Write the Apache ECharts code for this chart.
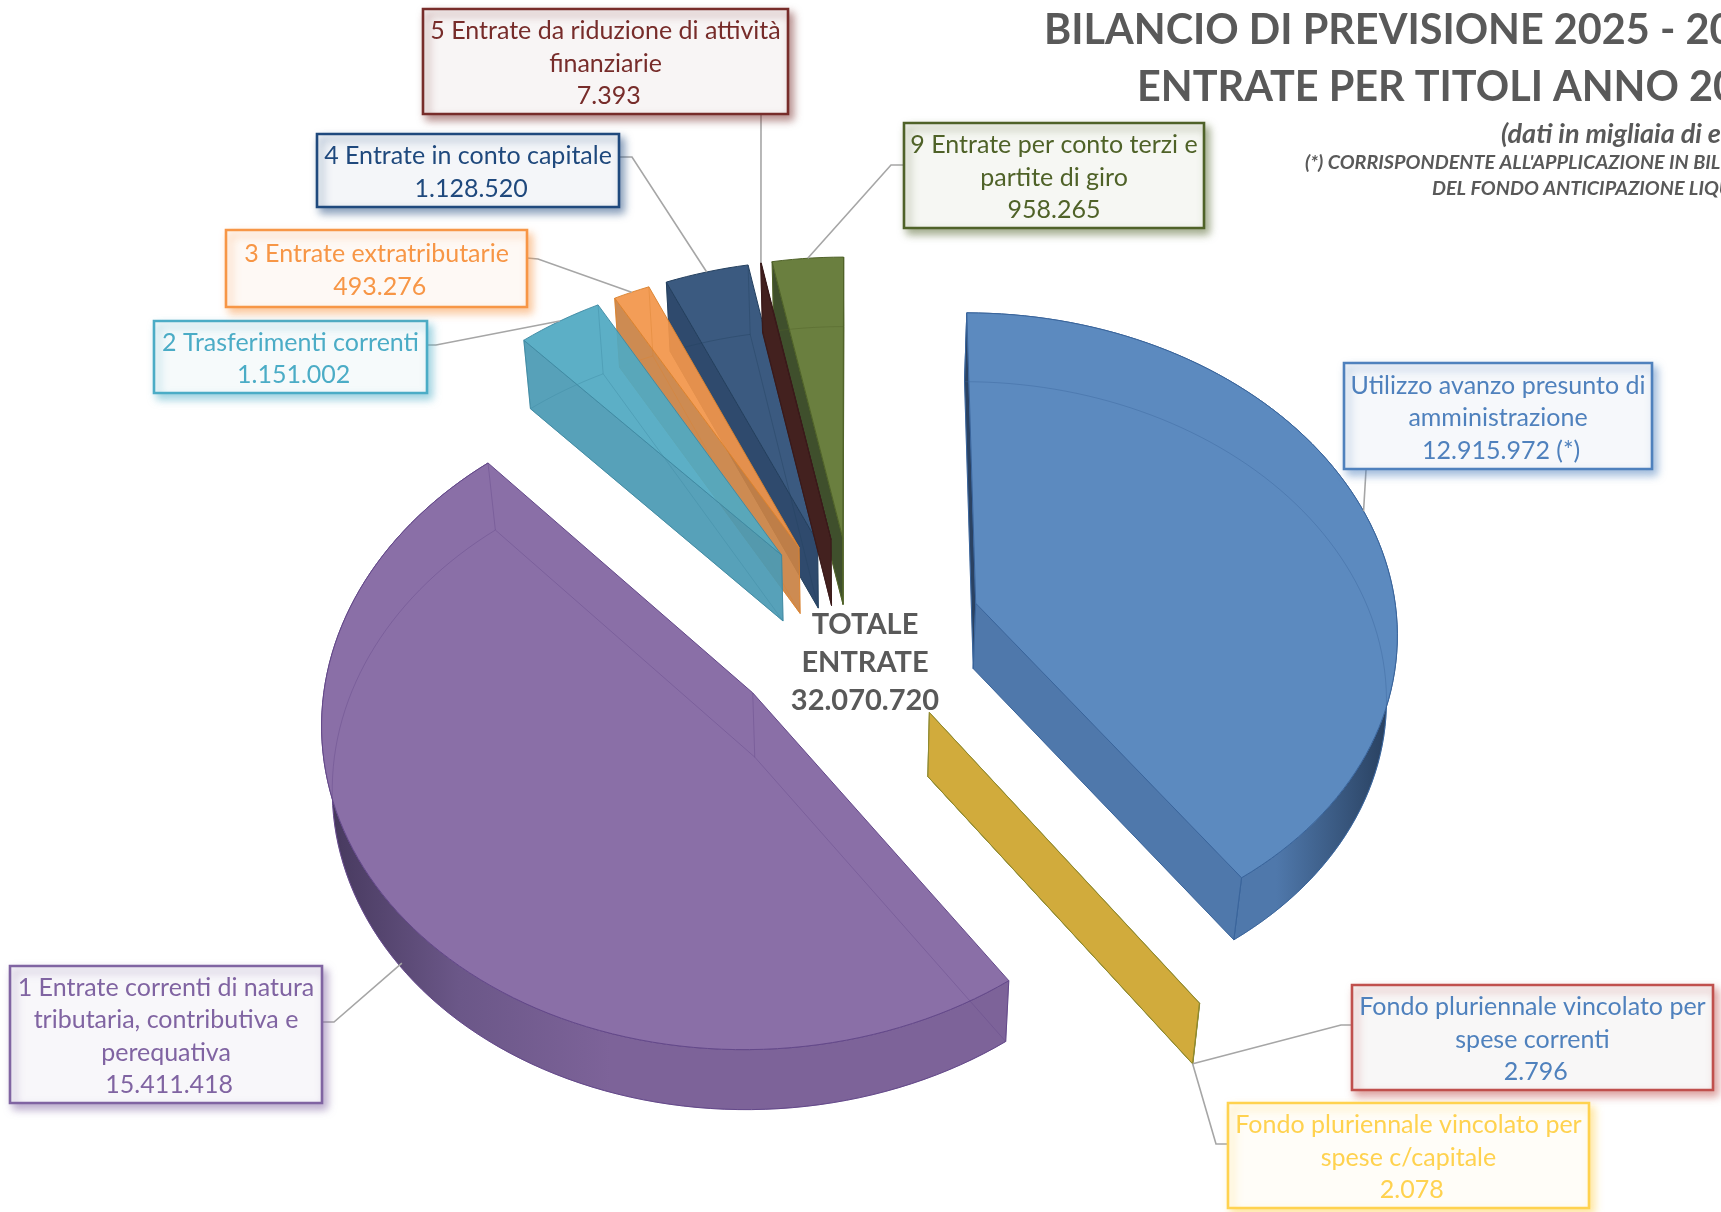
<!DOCTYPE html>
<html>
<head>
<meta charset="utf-8">
<title>Bilancio di previsione - entrate per titoli</title>
<script src="https://cdn.jsdelivr.net/npm/echarts@6/dist/echarts.min.js"></script>
<style>
    html, body { margin: 0; padding: 0; background: #ffffff; overflow: hidden; }
    #chart { width: 1721px; height: 1212px; }
</style>
</head>
<body>
<div id="chart"></div>
<script>
// pie order, clockwise from 12 o'clock
const sliceNames = [
    "Utilizzo avanzo presunto di\namministrazione",
    "Fondo pluriennale vincolato per\nspese correnti",
    "Fondo pluriennale vincolato per\nspese c/capitale",
    "1 Entrate correnti di natura\ntributaria, contributiva e\nperequativa",
    "2 Trasferimenti correnti",
    "3 Entrate extratributarie",
    "4 Entrate in conto capitale",
    "5 Entrate da riduzione di attività\nfinanziarie",
    "9 Entrate per conto terzi e\npartite di giro"
];
const sliceValues = [12915972, 2796, 2078, 15411418, 1151002, 493276, 1128520, 7393, 958265];
const valuePrefixes = [" ", " ", " ", " ", " ", " ", " ", " ", ""];
const valueSuffixes = [" (*)", "", "", "", "", "", "", "", ""];
const totalLabel = "TOTALE\nENTRATE\n32.070.720";

const titleLines = ["BILANCIO DI PREVISIONE 2025 - 20", "ENTRATE PER TITOLI ANNO 20"];
const noteLines = ["(dati in migliaia di e", "(*) CORRISPONDENTE ALL'APPLICAZIONE IN BIL", "DEL FONDO ANTICIPAZIONE LIQU"];

// colours, same order as the slices
const topColors = ["#5c8abf", "#d1ab3c", "#d1ab3c", "#8a6fa7", "#50a9c2", "#f2964a", "#3b5a80", "#4c2528", "#6a7f3f"];
const sideColors = ["#4f78ab", "#d1ab3c", "#d1ab3c", "#7d6399", "#4a9ab4", "#c98245", "#2f4a6d", "#43211f", "#3f4f2c"];
const darkColors = ["#2a4262", "#8a7228", "#8a7228", "#3f3254", "#2c6070", "#8a5a2a", "#1c2d44", "#2a1414", "#28331c"];
const edgeColors = ["#3a659c", "#8f8a30", "#8f8a30", "#64498a", "#3f8aa3", "#d9822f", "#24405f", "#3a1a1a", "#4f6228"];
const textColors = ["#4f81bd", "#4f81bd", "#ffd24f", "#8064a2", "#4bacc6", "#f79646", "#1f497d", "#772c2a", "#4f6228"];
const borderColors = ["#4f81bd", "#c0504d", "#ffd24f", "#8064a2", "#4bacc6", "#f79646", "#1f497d", "#772c2a", "#4f6228"];
const boxFills = ["#f6f8fb", "#f8f7f7", "#fffdf8", "#f8f7fa", "#f6fafb", "#fef9f5", "#f4f6f9", "#f8f5f5", "#f6f7f3"];
const sliceOpacity = [1, 1, 1, 1, 0.93, 0.93, 1, 1, 1];
const drawRank = [1, 2, 3, 4, 9, 8, 6, 7, 5];

// label box: x, y, w, h in px
const boxLayout = [
    [1344, 363, 308, 106],
    [1352, 985, 361, 105],
    [1228, 1103, 361, 105],
    [10, 966, 312, 137],
    [154, 321, 273, 72],
    [226, 230, 301, 77],
    [317, 134, 302, 73],
    [423, 9, 365, 105],
    [904, 123, 300, 105]
];
// leader: start and elbow in px, then which depth of the rim it lands on
const leaderLayout = [
    { from: [1367, 469], elbow: [1366, 470], depth: 0 },
    { from: [1352, 1025], elbow: [1341, 1025], depth: 1 },
    { from: [1228, 1144], elbow: [1216, 1144], depth: 1 },
    { from: [322, 1022], elbow: [334, 1022], depth: 0.9 },
    { from: [427, 345], elbow: [436, 345], depth: 0 },
    { from: [527, 258], elbow: [538, 259], depth: 0 },
    { from: [619, 157], elbow: [632, 157], depth: 0 },
    { from: [761, 114], elbow: [761, 115], depth: 0 },
    { from: [904, 165], elbow: [891, 165], depth: 0 }
];

// perspective of the pie
const centerX = 854.5, centerY = 632;
const radiusX = 422.5, radiusY = 318;
const tilt = 0.08;
const explode = 0.303;
const extrude = 65;

const fontFamily = "Lato, 'Open Sans', sans-serif";
const totalValue = sliceValues.reduce((a, b) => a + b, 0);

function formatValue(v) {
    return String(v).replace(/\B(?=(\d{3})+$)/g, ".");
}

function project(u, v, depth) {
    const w = 1 - tilt * v;
    const x = centerX + radiusX * u / w;
    const y = centerY + radiusY * v / w;
    return [centerX + (x - centerX) * (1 - 0.02 * depth), centerY + (y - centerY) * (1 - 0.012 * depth) + extrude * depth];
}

// > 0 when the polygon runs clockwise on screen, so it looks at the viewer
function polygonArea(pts) {
    let area = 0;
    for (let i = 0; i < pts.length; i++) {
        const a = pts[i], b = pts[(i + 1) % pts.length];
        area += a[0] * b[1] - b[0] * a[1];
    }
    return area;
}

function sliceGeometry(index) {
    let before = 0;
    for (let i = 0; i < index; i++) before += sliceValues[i];
    const start = before / totalValue * Math.PI * 2;
    const end = (before + sliceValues[index]) / totalValue * Math.PI * 2;
    const mid = (start + end) / 2;
    const offU = explode * Math.sin(mid), offV = -explode * Math.cos(mid);
    const rim = (t, depth) => project(offU + Math.sin(t), offV - Math.cos(t), depth);
    const apex = depth => project(offU, offV, depth);
    const steps = Math.max(2, Math.ceil((end - start) / 0.03));
    const arc = depth => {
        const pts = [];
        for (let s = 0; s <= steps; s++) pts.push(rim(start + (end - start) * s / steps, depth));
        return pts;
    };
    return { start, end, mid, rim, apex, arc };
}

function renderSlice(params, api) {
    const i = params.dataIndex;
    const g = sliceGeometry(i);
    const base = drawRank[i] * 20;
    const opacity = sliceOpacity[i];
    const children = [];
    let order = 0;
    const addPoly = (points, fill, stroke) => children.push({
        type: "polygon",
        z2: base + order++,
        shape: { points },
        style: { fill, stroke: stroke || edgeColors[i], lineWidth: 1, opacity }
    });
    const addLine = (points, alpha) => children.push({
        type: "polyline",
        z2: base + order++,
        shape: { points },
        style: { fill: null, stroke: edgeColors[i], lineWidth: 1, opacity: alpha }
    });

    const topArc = g.arc(0), lowArc = g.arc(1);
    const wall = topArc.concat(lowArc.slice().reverse());

    // the rim only shows on slices reaching the near side of the pie
    if (Math.abs(g.end - g.start) > 1) {
        const xs = wall.map(p => p[0]);
        const minX = Math.min(...xs), maxX = Math.max(...xs);
        const darkOnLeft = Math.sin(g.mid) < 0;
        const stops = darkOnLeft
            ? [{ offset: 0, color: darkColors[i] }, { offset: 0.03, color: "#4a3c62" }, { offset: 0.2, color: "#6b5788" }, { offset: 0.42, color: sideColors[i] }, { offset: 1, color: sideColors[i] }]
            : [{ offset: 0, color: sideColors[i] }, { offset: 0.72, color: sideColors[i] }, { offset: 0.97, color: darkColors[i] }, { offset: 1, color: darkColors[i] }];
        addPoly(wall, new echarts.graphic.LinearGradient(minX, 0, maxX, 0, stops, true));
    }

    // the two cut faces, skipped when they turn away from the viewer
    const startFace = [g.rim(g.start, 0), g.apex(0), g.apex(1), g.rim(g.start, 1)];
    const endFace = [g.apex(0), g.rim(g.end, 0), g.rim(g.end, 1), g.apex(1)];
    if (polygonArea(startFace) > 0) addPoly(startFace, i === 0 ? darkColors[i] : sideColors[i]);
    if (polygonArea(endFace) > 0) addPoly(endFace, sideColors[i]);

    if (g.end - g.start > 0.001) addPoly([g.apex(0)].concat(topArc), topColors[i]);

    // edges seen through the slice
    addLine(lowArc, 0.4);
    addLine([g.rim(g.start, 1), g.apex(1), g.rim(g.end, 1)], 0.4);
    addLine([g.apex(0), g.apex(1)], 0.4);
    addLine([g.rim(g.start, 0), g.rim(g.start, 1)], 0.4);
    addLine([g.rim(g.end, 0), g.rim(g.end, 1)], 0.4);

    // leader line lands in the middle of the rim
    const lead = leaderLayout[i];
    const landing = g.rim(g.mid, lead.depth);
    children.push({
        type: "polyline",
        z2: 300,
        shape: { points: [lead.from, lead.elbow, landing] },
        style: { fill: null, stroke: "#a6a6a6", lineWidth: 1.6 }
    });

    // label box
    const box = boxLayout[i];
    children.push({
        type: "rect",
        z2: 310,
        shape: { x: box[0], y: box[1], width: box[2], height: box[3] },
        style: {
            fill: boxFills[i],
            stroke: borderColors[i],
            lineWidth: 2.6,
            shadowBlur: 8,
            shadowOffsetX: 4,
            shadowOffsetY: 5,
            shadowColor: borderColors[i] + "88"
        }
    });
    children.push({
        type: "text",
        z2: 320,
        style: {
            x: box[0] + box[2] / 2,
            y: box[1] + box[3] / 2 + 2,
            text: sliceNames[i] + "\n" + valuePrefixes[i] + formatValue(api.value(0)) + valueSuffixes[i],
            fill: textColors[i],
            font: "25px " + fontFamily,
            lineHeight: 32.5,
            align: "center",
            verticalAlign: "middle"
        }
    });
    return { type: "group", children };
}

function headerText(text, x, y, font) {
    return { type: "text", x, y, z: 10, style: { text, font, fill: "#595959", textVerticalAlign: "middle" } };
}

const chart = echarts.init(document.getElementById("chart"));
chart.setOption({
    backgroundColor: "#ffffff",
    animation: false,
    graphic: [
        headerText(titleLines[0], 1044, 31, "bold 41.4px " + fontFamily),
        headerText(titleLines[1], 1137, 88, "bold 41.4px " + fontFamily),
        headerText(noteLines[0], 1501, 134, "italic bold 27px " + fontFamily),
        headerText(noteLines[1], 1305, 163, "italic bold 19.8px " + fontFamily),
        headerText(noteLines[2], 1432, 189, "italic bold 19.8px " + fontFamily),
        {
            type: "text",
            x: 865,
            y: 663,
            z: 10,
            style: {
                text: totalLabel,
                font: "bold 29px " + fontFamily,
                fill: "#595959",
                lineHeight: 38,
                textAlign: "center",
                textVerticalAlign: "middle"
            }
        }
    ],
    series: [{
        type: "custom",
        coordinateSystem: "none",
        silent: true,
        clip: false,
        data: sliceValues,
        renderItem: renderSlice
    }]
});
</script>
</body>
</html>
